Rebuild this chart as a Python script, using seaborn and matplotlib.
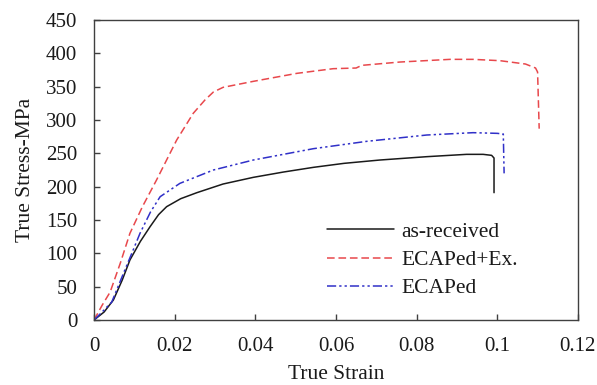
import numpy as np
import pandas as pd
import matplotlib
matplotlib.use('Agg')
import matplotlib.pyplot as plt
import seaborn as sns

# ---- data ----
as_received_strain = [0, 0.0025, 0.0048, 0.0070, 0.0089, 0.0115, 0.0139, 0.0160, 0.0180,
                      0.0215, 0.0255, 0.0320, 0.0395, 0.0470, 0.0544, 0.0620, 0.0709,
                      0.0825, 0.0924, 0.0965, 0.0986, 0.0992, 0.0992]
as_received_stress = [0, 12, 30, 60, 90, 118, 140, 158, 170, 182, 191, 204, 214, 222, 229,
                      235, 240, 245, 248.5, 248.5, 247, 243, 191]

ecap_ex_strain = [0, 0.0020, 0.0040, 0.0065, 0.0089, 0.0120, 0.0155, 0.0205, 0.0246,
                  0.0275, 0.0296, 0.0320, 0.0395, 0.0503, 0.0593, 0.0650, 0.0664,
                  0.0759, 0.0883, 0.0940, 0.1007, 0.1070, 0.1095, 0.1100, 0.1104]
ecap_ex_stress = [0, 22, 42, 85, 130, 170, 210, 270, 310, 330, 342, 349, 358, 370, 377,
                  378, 382, 387, 391, 391, 389, 384, 378, 372, 287]

ecap_strain = [0, 0.0020, 0.0044, 0.0073, 0.0095, 0.0114, 0.0140, 0.0164, 0.0213,
               0.0296, 0.0395, 0.0544, 0.0676, 0.0825, 0.0940, 0.1000, 0.1015, 0.1017]
ecap_stress = [0, 12, 27, 70, 102, 130, 162, 185, 205, 225, 240, 257, 268, 277.5, 281,
               280, 279, 220]

labels = ['as-received', 'ECAPed+Ex.', 'ECAPed']

df = pd.concat([
    pd.DataFrame({'strain': as_received_strain, 'stress': as_received_stress, 'sample': labels[0]}),
    pd.DataFrame({'strain': ecap_ex_strain, 'stress': ecap_ex_stress, 'sample': labels[1]}),
    pd.DataFrame({'strain': ecap_strain, 'stress': ecap_stress, 'sample': labels[2]}),
])

sns.set_theme(style='white')
plt.rcParams['font.family'] = ['Liberation Serif', 'DejaVu Serif']

fig = plt.figure(figsize=(5.97, 3.85), dpi=100)
ax = fig.add_axes([0.1575, 0.1688, 0.8105, 0.7792])

palette = {labels[0]: '#1a1a1a', labels[1]: '#e8484c', labels[2]: '#3030c8'}
dashes = {labels[0]: '', labels[1]: (5, 2.5), labels[2]: (6, 2, 1.5, 2, 1.5, 2)}
sns.lineplot(data=df, x='strain', y='stress', hue='sample', style='sample',
             palette=palette, dashes=dashes, sort=False, estimator=None,
             linewidth=1.1, ax=ax)

ax.set_xlim(0, 0.12)
ax.set_ylim(0, 450)
ax.set_xticks([0, 0.02, 0.04, 0.06, 0.08, 0.1, 0.12])
ax.set_xticklabels(['0', '0.02', '0.04', '0.06', '0.08', '0.1', '0.12'])
ax.set_yticks(range(0, 451, 50))
ax.tick_params(bottom=True, left=True, direction='in', length=4.5, width=1,
               colors='#404040', labelcolor='#1a1a1a', labelsize=15)
ax.tick_params(axis='x', pad=12)
ax.tick_params(axis='y', pad=12)
for s in ax.spines.values():
    s.set_color('#404040')
    s.set_linewidth(1)

ax.set_xlabel('True Strain', fontsize=15.5, labelpad=7, color='#1a1a1a')
ax.set_ylabel('True Stress-MPa', fontsize=15.5, labelpad=8, color='#1a1a1a')

leg = ax.legend(loc='center left', bbox_to_anchor=(0.460, 0.200), frameon=False,
                fontsize=15.5, handlelength=3.1, handletextpad=0.35,
                labelspacing=0.38, borderpad=0)
for line in leg.get_lines():
    line.set_linewidth(1.1)
for t in leg.get_texts():
    t.set_color('#1a1a1a')

plt.savefig('out.png', dpi=100)
